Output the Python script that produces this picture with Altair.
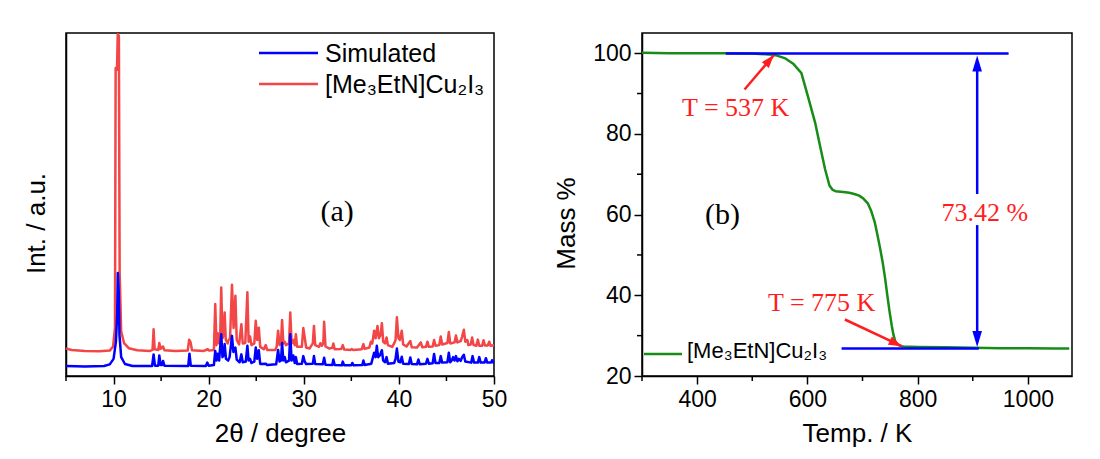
import math
import altair as alt
import pandas as pd

# ---------------- panel (a): powder XRD ----------------
# (2theta, intensity) vertices of the simulated pattern
sim_pts = [
    (5.0, 2.9), (7.0, 2.8), (9.0, 2.9), (9.6, 3.4), (10.0, 5.0), (10.25, 10.0), (10.38, 18.0),
    (10.45, 30.0), (10.55, 24.0), (10.62, 12.0), (10.8, 5.5), (11.2, 3.5), (12.0, 2.9),
    (14.05, 2.9), (14.21, 6.3), (14.35, 3.0), (14.7, 3.0), (14.81, 6.0), (14.95, 3.2),
    (15.1, 3.2), (15.2, 4.4), (15.35, 3.0), (17.85, 2.9), (17.98, 6.5), (18.12, 3.0),
    (19.7, 2.9), (19.85, 3.9), (20.0, 3.0), (20.55, 3.2), (20.69, 7.3), (20.82, 4.5),
    (20.95, 6.5), (21.1, 4.5), (21.32, 12.2), (21.45, 5.5), (21.58, 6.0), (21.68, 9.3),
    (21.82, 5.0), (22.05, 4.5), (22.2, 5.5), (22.45, 11.7), (22.6, 7.0), (22.81, 8.3),
    (22.95, 4.8), (23.25, 4.0), (23.44, 6.3), (23.58, 4.0), (23.9, 4.2), (24.07, 8.8),
    (24.2, 4.5), (24.35, 5.0), (24.5, 3.8), (24.8, 4.2), (24.95, 8.3), (25.1, 5.0),
    (25.27, 7.5), (25.42, 3.5), (26.0, 3.6), (26.15, 3.2), (27.1, 3.4), (27.3, 7.6),
    (27.45, 4.2), (27.6, 4.5), (27.72, 9.6), (27.85, 4.5), (28.0, 5.5), (28.12, 4.0),
    (28.45, 4.5), (28.58, 12.2), (28.72, 4.5), (28.9, 6.0), (29.05, 3.8), (29.17, 5.5),
    (29.3, 3.5), (29.8, 3.6), (29.95, 5.8), (30.1, 4.2), (30.25, 3.5), (30.95, 3.6),
    (31.07, 5.8), (31.2, 3.5), (32.0, 3.4), (32.14, 5.3), (32.28, 3.3), (33.0, 3.2),
    (33.11, 4.8), (33.25, 3.2), (34.0, 3.1), (34.1, 4.2), (34.25, 3.1), (35.0, 3.1),
    (35.1, 3.8), (35.25, 3.1), (36.15, 3.2), (36.27, 4.5), (36.4, 3.2), (37.1, 3.6),
    (37.4, 6.8), (37.55, 5.5), (37.68, 8.8), (37.82, 5.5), (38.0, 6.0), (38.21, 7.5),
    (38.35, 4.5), (38.55, 4.0), (38.7, 5.5), (38.85, 3.6), (39.5, 3.8), (39.65, 5.0),
    (39.79, 8.0), (39.95, 4.2), (40.15, 4.0), (40.3, 5.6), (40.45, 3.6), (41.05, 3.5),
    (41.2, 5.4), (41.35, 3.5), (41.9, 3.4), (42.05, 4.8), (42.2, 3.4), (42.85, 3.6),
    (43.0, 5.0), (43.15, 3.6), (43.55, 3.7), (43.7, 6.4), (43.85, 3.8), (44.25, 3.8),
    (44.4, 5.8), (44.55, 3.9), (45.1, 4.0), (45.25, 6.8), (45.4, 4.0), (45.55, 4.5),
    (45.7, 5.5), (45.85, 4.5), (46.0, 5.8), (46.15, 4.3), (46.3, 5.0), (46.5, 4.4),
    (46.65, 5.5), (46.83, 6.2), (46.98, 4.2), (47.6, 3.9), (47.75, 5.8), (47.9, 3.9),
    (48.3, 3.9), (48.45, 5.5), (48.6, 3.9), (49.0, 3.9), (49.15, 5.2), (49.3, 3.9),
    (49.7, 3.9), (49.8, 4.6), (49.95, 3.9), (50.0, 3.9),
]

# (2theta, intensity) vertices of the measured pattern
exp_pts = [
    (5.0, 8.0), (5.6, 7.6), (7.0, 7.3), (8.5, 7.2), (9.6, 7.4), (9.95, 8.6), (10.15, 14.0),
    (10.22, 89.8), (10.36, 89.3), (10.44, 99.6), (10.56, 99.2), (10.64, 30.0), (10.8, 13.0),
    (11.1, 9.6), (11.6, 8.1), (12.5, 7.5), (13.8, 7.3), (14.1, 7.6), (14.21, 13.6),
    (14.32, 7.8), (14.7, 7.6), (14.81, 9.6), (14.95, 7.9), (15.2, 8.6), (15.35, 7.5),
    (16.5, 7.3), (17.8, 7.4), (17.95, 10.6), (18.1, 9.8), (18.25, 7.5), (19.5, 7.3),
    (19.9, 7.8), (20.05, 7.4), (20.55, 7.6), (20.69, 21.0), (20.82, 9.0), (20.95, 12.5),
    (21.08, 9.5), (21.2, 10.0), (21.32, 25.8), (21.45, 11.0), (21.58, 12.0), (21.68, 18.5),
    (21.8, 10.5), (22.0, 9.5), (22.1, 10.5), (22.25, 11.0), (22.45, 26.6), (22.62, 14.0),
    (22.81, 23.4), (22.95, 10.5), (23.2, 9.2), (23.44, 15.1), (23.58, 9.5), (23.85, 9.6),
    (24.07, 24.4), (24.2, 10.0), (24.35, 11.5), (24.5, 9.0), (24.8, 9.5), (24.95, 16.1),
    (25.1, 10.5), (25.27, 14.1), (25.42, 8.5), (25.8, 7.8), (26.0, 9.0), (26.15, 7.6),
    (27.0, 7.6), (27.15, 8.5), (27.3, 13.2), (27.45, 9.0), (27.6, 9.5), (27.72, 16.3),
    (27.85, 9.5), (28.0, 10.0), (28.12, 9.0), (28.45, 9.5), (28.58, 18.5), (28.72, 9.5),
    (28.9, 10.5), (29.05, 9.0), (29.17, 12.2), (29.3, 8.5), (29.8, 8.5), (29.95, 14.0),
    (30.1, 11.2), (30.25, 8.3), (30.6, 8.0), (30.95, 9.5), (31.07, 14.6), (31.2, 9.0),
    (31.6, 8.5), (31.75, 9.6), (31.9, 8.8), (32.05, 9.5), (32.14, 15.8), (32.28, 8.6),
    (32.7, 8.0), (33.0, 8.2), (33.11, 9.5), (33.25, 7.8), (33.95, 7.9), (34.1, 9.0),
    (34.25, 7.7), (34.9, 7.6), (35.05, 7.9), (35.2, 7.6), (36.1, 7.8), (36.27, 9.3),
    (36.4, 7.9), (36.9, 8.3), (37.05, 10.0), (37.2, 9.5), (37.4, 13.2), (37.55, 11.0),
    (37.75, 14.6), (37.9, 11.0), (38.08, 12.0), (38.21, 15.4), (38.35, 10.0), (38.55, 9.5),
    (38.7, 11.2), (38.85, 9.0), (39.3, 8.5), (39.5, 9.5), (39.65, 10.5), (39.79, 17.1),
    (39.95, 11.0), (40.1, 10.5), (40.3, 13.2), (40.45, 9.2), (40.8, 8.6), (41.2, 10.2),
    (41.35, 8.4), (41.9, 8.3), (42.3, 9.8), (42.45, 8.4), (42.85, 8.5), (43.0, 10.0),
    (43.15, 8.5), (43.55, 8.6), (43.7, 10.5), (43.85, 8.8), (44.25, 9.0), (44.4, 11.5),
    (44.55, 9.2), (45.1, 9.6), (45.25, 12.8), (45.4, 9.5), (45.85, 9.8), (46.0, 11.8),
    (46.15, 9.8), (46.5, 10.2), (46.65, 11.5), (46.83, 13.5), (46.98, 10.0), (47.2, 10.5),
    (47.3, 9.0), (47.55, 9.2), (47.7, 11.2), (47.85, 9.0), (48.15, 8.8), (48.3, 10.6),
    (48.45, 8.8), (48.75, 8.8), (48.9, 10.4), (49.05, 8.9), (49.35, 8.9), (49.5, 10.0),
    (49.65, 8.8), (50.0, 9.0),
]

xrd_major = [10, 20, 30, 40, 50]
xrd_minor = [5, 15, 25, 35, 45]

# ---------------- panel (b): TGA ----------------
tga_T = [300, 350, 400, 450, 500, 530, 545, 560, 575, 589, 601, 614, 623, 632, 640, 646,
         651, 665, 676, 685, 694, 702, 710, 716, 722, 727, 732, 737, 741, 745, 749, 753,
         756, 759, 763, 770, 775, 800, 850, 900, 950, 1000, 1050, 1075]
tga_mass = [100.1, 100.0, 100.0, 100.0, 99.9, 99.7, 99.4, 98.7, 97.3, 95.1, 89.3, 82.8,
            77.0, 71.3, 67.2, 66.1, 65.8, 65.6, 65.4, 65.1, 64.7, 63.9, 62.7, 60.8, 58.2,
            55.0, 51.6, 47.8, 44.2, 40.0, 36.0, 32.5, 30.3, 28.8, 27.8, 27.4, 27.3, 27.2,
            27.1, 27.0, 26.9, 26.9, 26.8, 26.8]

tga_major_x = [400, 600, 800, 1000]
tga_minor_x = [300, 500, 700, 900]
tga_major_y = [20, 40, 60, 80, 100]
tga_minor_y = [30, 50, 70, 90]

# reference levels (start / residue) and the mass-loss bracket
level_T0 = [452, 662]
level_T1 = [965, 911]
level_mass = [99.9, 26.8]
loss_T = 908
loss_top, loss_bottom = 99.4, 27.2
loss_gap = (65.1, 57.4)
loss_label = "73.42 %"

# onset / end annotations: tail (T, mass) -> tip (T, mass)
onset_labels = ["T = 537 K", "T = 775 K"]
onset_label_T = [470, 626]
onset_label_mass = [86.5, 38.1]
arrow_T0 = [486, 668]
arrow_m0 = [91.0, 34.0]
arrow_T1 = [539, 771]
arrow_m1 = [99.5, 27.4]

compound = "[Me\u2083EtN]Cu\u2082I\u2083"

# ---------------- styling ----------------
W_A, W_B, H = 428, 430, 343
X_DOM = [5, 50]
I_DOM = [0, 100]
T_DOM = [300, 1080]
M_DOM = [20, 105]

BLUE = "#0000FF"
RED_LINE = "#F34646"
RED_TXT = "#FF1E1E"
GREEN = "#178C17"
SANS = "Liberation Sans"
SERIF = "Liberation Serif"

ARROW = "M0,0 L-0.7,2 L0.7,2 Z"   # tip sits on the anchor point


def heading(t0, m0, t1, m1):
    """Clockwise screen angle (deg from up) of the vector tail->tip in panel b."""
    dx = (t1 - t0) * W_B / (T_DOM[1] - T_DOM[0])
    dy = (m1 - m0) * H / (M_DOM[1] - M_DOM[0])
    return math.degrees(math.atan2(dx, dy)) % 360


one = alt.Data(values=[{}])

# ---------------- panel (a) ----------------
sim_df = pd.DataFrame(sim_pts, columns=["tt", "inten"])
exp_df = pd.DataFrame(exp_pts, columns=["tt", "inten"])

xa = alt.X("tt:Q", scale=alt.Scale(domain=X_DOM, nice=False, zero=False),
           axis=alt.Axis(values=xrd_major, format="d", title="2θ / degree",
                         labelPadding=4, titlePadding=9))
ya = alt.Y("inten:Q", scale=alt.Scale(domain=I_DOM, nice=False),
           axis=alt.Axis(labels=False, ticks=False, title="Int. / a.u.", titlePadding=17, titleY=190))

exp_line = alt.Chart(exp_df).mark_line(color=RED_LINE, strokeWidth=2.5, strokeJoin="round").encode(x=xa, y=ya)
sim_line = alt.Chart(sim_df).mark_line(color=BLUE, strokeWidth=2.5, strokeJoin="round").encode(x=xa, y=ya)

minor_a = alt.Chart(pd.DataFrame({"v": xrd_minor})).mark_rule(color="black", strokeWidth=1.5).encode(
    x=alt.X("v:Q", scale=alt.Scale(domain=X_DOM, nice=False, zero=False)),
    y=alt.value(H), y2=alt.value(H + 5))

leg_a = [
    alt.Chart(one).mark_rule(color=BLUE, strokeWidth=2.5).encode(
        x=alt.value(193), x2=alt.value(252), y=alt.value(20)),
    alt.Chart(one).mark_text(text="Simulated", font=SANS, fontSize=25, align="left",
                             baseline="alphabetic", color="black").encode(
        x=alt.value(259), y=alt.value(29)),
    alt.Chart(one).mark_rule(color=RED_LINE, strokeWidth=2.5).encode(
        x=alt.value(193), x2=alt.value(252), y=alt.value(51)),
    alt.Chart(one).mark_text(text=compound, font=SANS, fontSize=25, align="left",
                             baseline="alphabetic", color="black").encode(
        x=alt.value(259), y=alt.value(60)),
]

tag_a = alt.Chart(pd.DataFrame({"tt": [33.5], "inten": [47.8], "t": ["(a)"]})).mark_text(
    font=SERIF, fontSize=30, color="black").encode(
    x=alt.X("tt:Q", scale=alt.Scale(domain=X_DOM, nice=False, zero=False)),
    y=alt.Y("inten:Q", scale=alt.Scale(domain=I_DOM, nice=False)), text="t:N")

panel_a = alt.layer(exp_line, sim_line, minor_a, *leg_a, tag_a).properties(width=W_A, height=H)

# ---------------- panel (b) ----------------
tscale = alt.Scale(domain=T_DOM, nice=False, zero=False)
mscale = alt.Scale(domain=M_DOM, nice=False, zero=False)

xb = alt.X("T:Q", scale=tscale,
           axis=alt.Axis(values=tga_major_x, format="d", title="Temp. / K",
                         labelPadding=4, titlePadding=9))
yb = alt.Y("m:Q", scale=mscale,
           axis=alt.Axis(values=tga_major_y, format="d", title="Mass %",
                         labelPadding=3, titlePadding=13, titleY=190))

tga_df = pd.DataFrame({"T": tga_T, "m": tga_mass})
tga_line = alt.Chart(tga_df).mark_line(color=GREEN, strokeWidth=2.5, strokeJoin="round").encode(x=xb, y=yb)

levels = alt.Chart(pd.DataFrame({"T": level_T0, "T2": level_T1, "m": level_mass})).mark_rule(
    color=BLUE, strokeWidth=2.5).encode(
    x=alt.X("T:Q", scale=tscale), x2="T2:Q", y=alt.Y("m:Q", scale=mscale))

seg_df = pd.DataFrame({"T": [loss_T, loss_T],
                       "m": [loss_top - 1.5, loss_gap[1]],
                       "m2": [loss_gap[0], loss_bottom + 1.5]})
bracket = alt.Chart(seg_df).mark_rule(color=BLUE, strokeWidth=2.5).encode(
    x=alt.X("T:Q", scale=tscale), y=alt.Y("m:Q", scale=mscale), y2="m2:Q")

heads_df = pd.DataFrame({"T": [loss_T, loss_T], "m": [loss_top, loss_bottom], "ang": [0, 180]})
bracket_heads = alt.Chart(heads_df).mark_point(
    shape="M0,0 L-0.6,2 L0.6,2 Z", filled=True, size=256, color=BLUE, opacity=1, strokeWidth=0).encode(
    x=alt.X("T:Q", scale=tscale), y=alt.Y("m:Q", scale=mscale), angle=alt.Angle("ang:Q", scale=None))

loss_txt = alt.Chart(pd.DataFrame({"T": [922], "m": [60.3], "t": [loss_label]})).mark_text(
    font=SERIF, fontSize=26, color=RED_TXT).encode(
    x=alt.X("T:Q", scale=tscale), y=alt.Y("m:Q", scale=mscale), text="t:N")

arr_df = pd.DataFrame({"T": arrow_T0, "m": arrow_m0, "T2": arrow_T1, "m2": arrow_m1})
arr_df["ang"] = [heading(a, b, c, d) for a, b, c, d in zip(arrow_T0, arrow_m0, arrow_T1, arrow_m1)]
arrows = alt.Chart(arr_df).mark_rule(color=RED_TXT, strokeWidth=2.5).encode(
    x=alt.X("T:Q", scale=tscale), y=alt.Y("m:Q", scale=mscale), x2="T2:Q", y2="m2:Q")
arrow_heads = alt.Chart(arr_df).mark_point(
    shape=ARROW, filled=True, size=169, color=RED_TXT, opacity=1, strokeWidth=0).encode(
    x=alt.X("T2:Q", scale=tscale), y=alt.Y("m2:Q", scale=mscale), angle=alt.Angle("ang:Q", scale=None))

onset_txt = alt.Chart(pd.DataFrame({"T": onset_label_T, "m": onset_label_mass, "t": onset_labels})).mark_text(
    font=SERIF, fontSize=26, color=RED_TXT).encode(
    x=alt.X("T:Q", scale=tscale), y=alt.Y("m:Q", scale=mscale), text="t:N")

tag_b = alt.Chart(pd.DataFrame({"T": [446], "m": [60.0], "t": ["(b)"]})).mark_text(
    font=SERIF, fontSize=30, color="black").encode(
    x=alt.X("T:Q", scale=tscale), y=alt.Y("m:Q", scale=mscale), text="t:N")

minor_bx = alt.Chart(pd.DataFrame({"v": tga_minor_x})).mark_rule(color="black", strokeWidth=1.5).encode(
    x=alt.X("v:Q", scale=tscale), y=alt.value(H), y2=alt.value(H + 5))
minor_by = alt.Chart(pd.DataFrame({"v": tga_minor_y})).mark_rule(color="black", strokeWidth=1.5).encode(
    y=alt.Y("v:Q", scale=mscale), x=alt.value(0), x2=alt.value(-5))

leg_b = [
    alt.Chart(one).mark_rule(color=GREEN, strokeWidth=2.5).encode(
        x=alt.value(2), x2=alt.value(40), y=alt.value(321)),
    alt.Chart(one).mark_text(text=compound, font=SANS, fontSize=22, align="left",
                             baseline="alphabetic", color="black").encode(
        x=alt.value(45), y=alt.value(325)),
]

panel_b = alt.layer(tga_line, levels, bracket, bracket_heads, arrows, arrow_heads,
                    loss_txt, onset_txt, tag_b, minor_bx, minor_by, *leg_b).properties(width=W_B, height=H)

chart = alt.hconcat(panel_a, panel_b, spacing=148, bounds="flush").properties(
    padding={"left": 22, "top": 32, "right": 0, "bottom": 0},
    background="white",
).configure_view(
    stroke="black", strokeWidth=1.5
).configure_axis(
    grid=False, domainColor="black", domainWidth=1.5, tickColor="black", tickWidth=1.5,
    tickSize=8, labelColor="black", titleColor="black", labelFont=SANS, titleFont=SANS,
    labelFontSize=23, titleFontSize=26, titleFontWeight="normal", labelFlush=False,
)

chart.save("out.html", embed_options={"renderer": "svg", "actions": False})
